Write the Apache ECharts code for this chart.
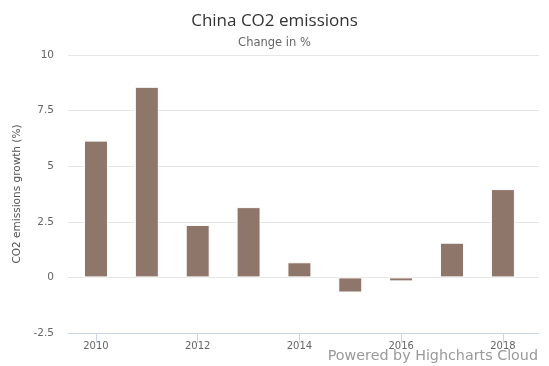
<!DOCTYPE html>
<html><head><meta charset="utf-8">
<script src="https://cdn.jsdelivr.net/npm/echarts@6/dist/echarts.min.js"></script>
<style>html,body{margin:0;padding:0;background:#fff}#c{width:549px;height:366px}</style>
</head><body><div id="c"></div>
<script>
const years = [2010, 2011, 2012, 2013, 2014, 2015, 2016, 2017, 2018];
const growth = [6.15, 8.57, 2.36, 3.16, 0.68, -0.68, -0.18, 1.56, 3.97];
const xTicks = [2010, 2012, 2014, 2016, 2018];
const yTicks = [-2.5, 0, 2.5, 5, 7.5, 10];

const chart = echarts.init(document.getElementById('c'), null, {renderer: 'canvas'});
const font = 'DejaVu Sans, Verdana, sans-serif';
chart.setOption({
  animation: false,
  title: [
    {text: 'China CO2 emissions', left: 'center', top: 8,
     textStyle: {fontFamily: 'Open Sans, sans-serif', fontSize: 17, fontWeight: 'normal', color: '#333'}},
    {text: 'Change in %', left: 'center', top: 32,
     textStyle: {fontFamily: font, fontSize: 11.5, fontWeight: 'normal', color: '#666'}}
  ],
  grid: {left: 68, right: 10, top: 55, bottom: 33, containLabel: false},
  xAxis: {
    type: 'value', min: 2009.45, max: 2018.71,
    axisLine: {show: true, onZero: false, lineStyle: {color: '#ccd6eb'}},
    axisTick: {show: true, customValues: xTicks, length: 10, lineStyle: {color: '#ccd6eb'}},
    axisLabel: {customValues: xTicks, color: '#666', fontFamily: font, fontSize: 10, margin: 8,
      formatter: v => String(v)},
    splitLine: {show: false}
  },
  yAxis: {
    type: 'value', min: -2.5, max: 10, interval: 2.5,
    name: 'CO2 emissions growth (%)', nameLocation: 'middle', nameGap: 44,
    nameTextStyle: {fontFamily: font, fontSize: 10.5, color: '#555'},
    axisLine: {show: false}, axisTick: {show: false},
    axisLabel: {color: '#666', fontFamily: font, fontSize: 10.5, margin: 14,
      formatter: v => String(v)},
    splitLine: {lineStyle: {color: '#e6e6e6'}}
  },
  series: [{
    type: 'bar', barWidth: 24,
    data: years.map((y, i) => [y, growth[i]]),
    itemStyle: {color: '#8f766a', borderColor: '#fff', borderWidth: 1}
  }],
  graphic: [{
    type: 'text', right: 11, bottom: 3,
    style: {text: 'Powered by Highcharts Cloud', fill: '#999', fontFamily: font, fontSize: 14.3}
  }]
});
</script></body></html>
